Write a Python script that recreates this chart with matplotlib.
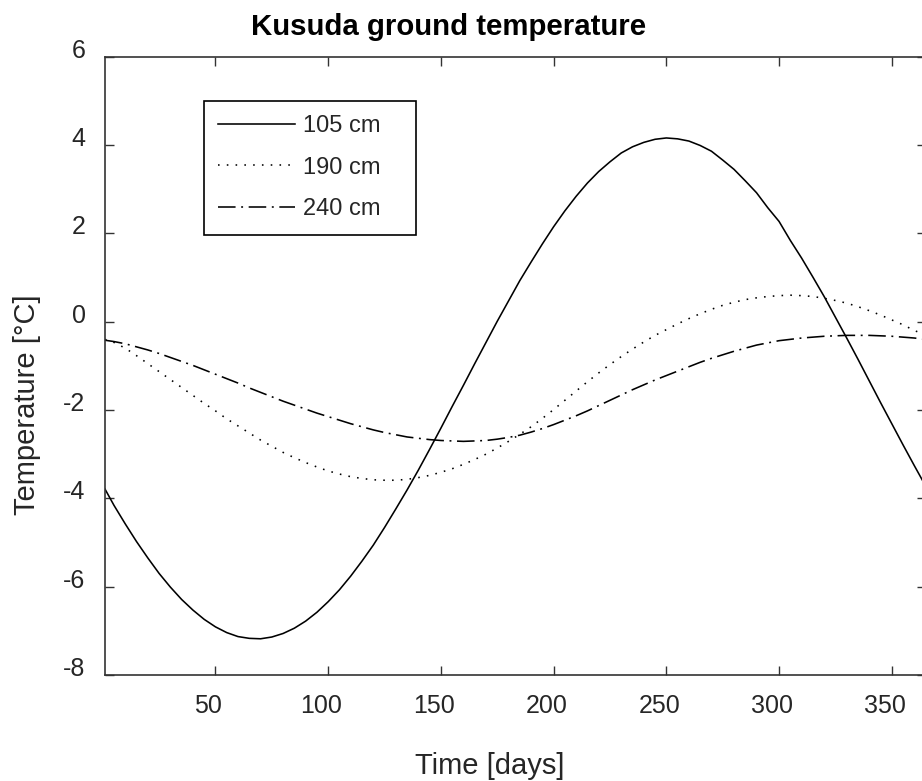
import matplotlib
matplotlib.use("Agg")
import matplotlib.pyplot as plt
import matplotlib.transforms as mtransforms

days = [1, 5, 10, 15, 20, 25, 30, 35, 40, 45, 50, 55, 60, 65, 70, 75, 80, 85,
        90, 95, 100, 105, 110, 115, 120, 125, 130, 135, 140, 145, 150, 155,
        160, 165, 170, 175, 180, 185, 190, 195, 200, 205, 210, 215, 220, 225,
        230, 235, 240, 245, 250, 255, 260, 265, 270, 275, 280, 285, 290, 295,
        300, 305, 310, 315, 320, 325, 330, 335, 340, 345, 350, 355, 360, 365]

t_105 = [-3.79, -4.16, -4.58, -4.98, -5.35, -5.70, -6.01, -6.29, -6.53, -6.74,
         -6.91, -7.04, -7.13, -7.17, -7.18, -7.14, -7.06, -6.94, -6.78, -6.58,
         -6.34, -6.07, -5.76, -5.42, -5.06, -4.66, -4.24, -3.81, -3.36, -2.89,
         -2.41, -1.92, -1.44, -0.95, -0.47, 0.01, 0.47, 0.93, 1.35, 1.76,
         2.15, 2.51, 2.84, 3.14, 3.40, 3.62, 3.82, 3.96, 4.06, 4.13,
         4.16, 4.14, 4.09, 3.99, 3.86, 3.66, 3.45, 3.19, 2.92, 2.58,
         2.27, 1.84, 1.44, 1.01, 0.57, 0.10, -0.37, -0.85, -1.34, -1.83,
         -2.31, -2.79, -3.26, -3.72]

t_190 = [-0.40, -0.47, -0.60, -0.77, -0.95, -1.13, -1.31, -1.49, -1.67, -1.85,
         -2.02, -2.20, -2.36, -2.52, -2.68, -2.82, -2.96, -3.08, -3.19, -3.29,
         -3.38, -3.45, -3.51, -3.55, -3.58, -3.59, -3.59, -3.57, -3.53, -3.48,
         -3.41, -3.33, -3.23, -3.12, -3.00, -2.86, -2.71, -2.55, -2.38, -2.19,
         -1.99, -1.78, -1.57, -1.36, -1.16, -0.97, -0.79, -0.62, -0.46, -0.31,
         -0.18, -0.05, 0.07, 0.18, 0.28, 0.37, 0.44, 0.50, 0.54, 0.57,
         0.59, 0.60, 0.59, 0.57, 0.53, 0.48, 0.42, 0.34, 0.25, 0.15,
         0.04, -0.07, -0.20, -0.30]

t_240 = [-0.42, -0.45, -0.50, -0.57, -0.64, -0.72, -0.81, -0.90, -0.99, -1.09,
         -1.19, -1.29, -1.39, -1.50, -1.60, -1.70, -1.80, -1.89, -1.98, -2.07,
         -2.15, -2.23, -2.31, -2.38, -2.45, -2.51, -2.56, -2.61, -2.64, -2.67,
         -2.69, -2.70, -2.71, -2.70, -2.69, -2.66, -2.62, -2.57, -2.50, -2.42,
         -2.33, -2.23, -2.13, -2.02, -1.90, -1.78, -1.66, -1.54, -1.43, -1.32,
         -1.22, -1.12, -1.02, -0.92, -0.83, -0.75, -0.67, -0.60, -0.53, -0.48,
         -0.43, -0.40, -0.37, -0.35, -0.33, -0.32, -0.31, -0.31, -0.31, -0.32,
         -0.33, -0.35, -0.37, -0.40]

labels = ["105 cm", "190 cm", "240 cm"]
xticks = [50, 100, 150, 200, 250, 300, 350]
yticks = [-8, -6, -4, -2, 0, 2, 4, 6]

plt.rcParams['font.family'] = ['Liberation Sans', 'DejaVu Sans']
plt.rcParams['axes.unicode_minus'] = False

W, H = 922, 781
fig = plt.figure(figsize=(W / 100, H / 100), dpi=100)
# right edge of the axes sits just outside the image, as in the original
ax = fig.add_axes([105 / W, (H - 675) / H, 820.6 / W, 618.3 / H])

ax.plot(days, t_105, color='black', lw=1.15, ls='-', label=labels[0])
ax.plot(days, t_190, color='black', lw=1.15, ls=(0, (1, 4.5)), label=labels[1])
ax.plot(days, t_240, color='black', lw=1.15, ls=(0, (11, 3.5, 1.2, 3.5)), label=labels[2])

ax.set_xlim(1, 365)
ax.set_ylim(-8, 6)
ax.set_xticks(xticks)
ax.set_yticks(yticks)
ax.tick_params(direction='in', length=6.5, width=1.0, color='#333333',
               labelsize=18, labelcolor='#262626', top=True, right=True)
ax.tick_params(axis='y', pad=14)
ax.tick_params(axis='x', pad=14)
for s in ax.spines.values():
    s.set_linewidth(1.2)
    s.set_color('#333333')

# tick labels sit a few pixels off their ticks in the original export
dx = mtransforms.ScaledTranslation(-7 / 100, 0, fig.dpi_scale_trans)
dy = mtransforms.ScaledTranslation(0, 8.4 / 100, fig.dpi_scale_trans)
for lab in ax.get_xticklabels():
    lab.set_transform(lab.get_transform() + dx)
for lab in ax.get_yticklabels():
    lab.set_transform(lab.get_transform() + dy)

leg = ax.legend(loc='upper left', mode='expand',
                bbox_to_anchor=(204 / W, 1 - 238 / H, 212 / W, 137 / H),
                bbox_transform=fig.transFigure, borderaxespad=0,
                fancybox=False, edgecolor='black', framealpha=1,
                fontsize=17, handlelength=3.25, handletextpad=0.34,
                borderpad=0.61, labelspacing=0.82)
leg.get_frame().set_linewidth(1.2)
for t in leg.get_texts():
    t.set_color('#262626')

fig.text(449 / W, 1 - 35 / H, "Kusuda ground temperature", ha='center', va='baseline',
         fontsize=21.2, fontweight='bold')
fig.text(490 / W, 1 - 774 / H, "Time [days]", ha='center', va='baseline',
         fontsize=21, color='#262626')
fig.text(27.4 / W, 1 - 405 / H, "Temperature [°C]", ha='center', va='center',
         rotation=90, fontsize=21, color='#262626')

fig.savefig("out.png", dpi=100)
